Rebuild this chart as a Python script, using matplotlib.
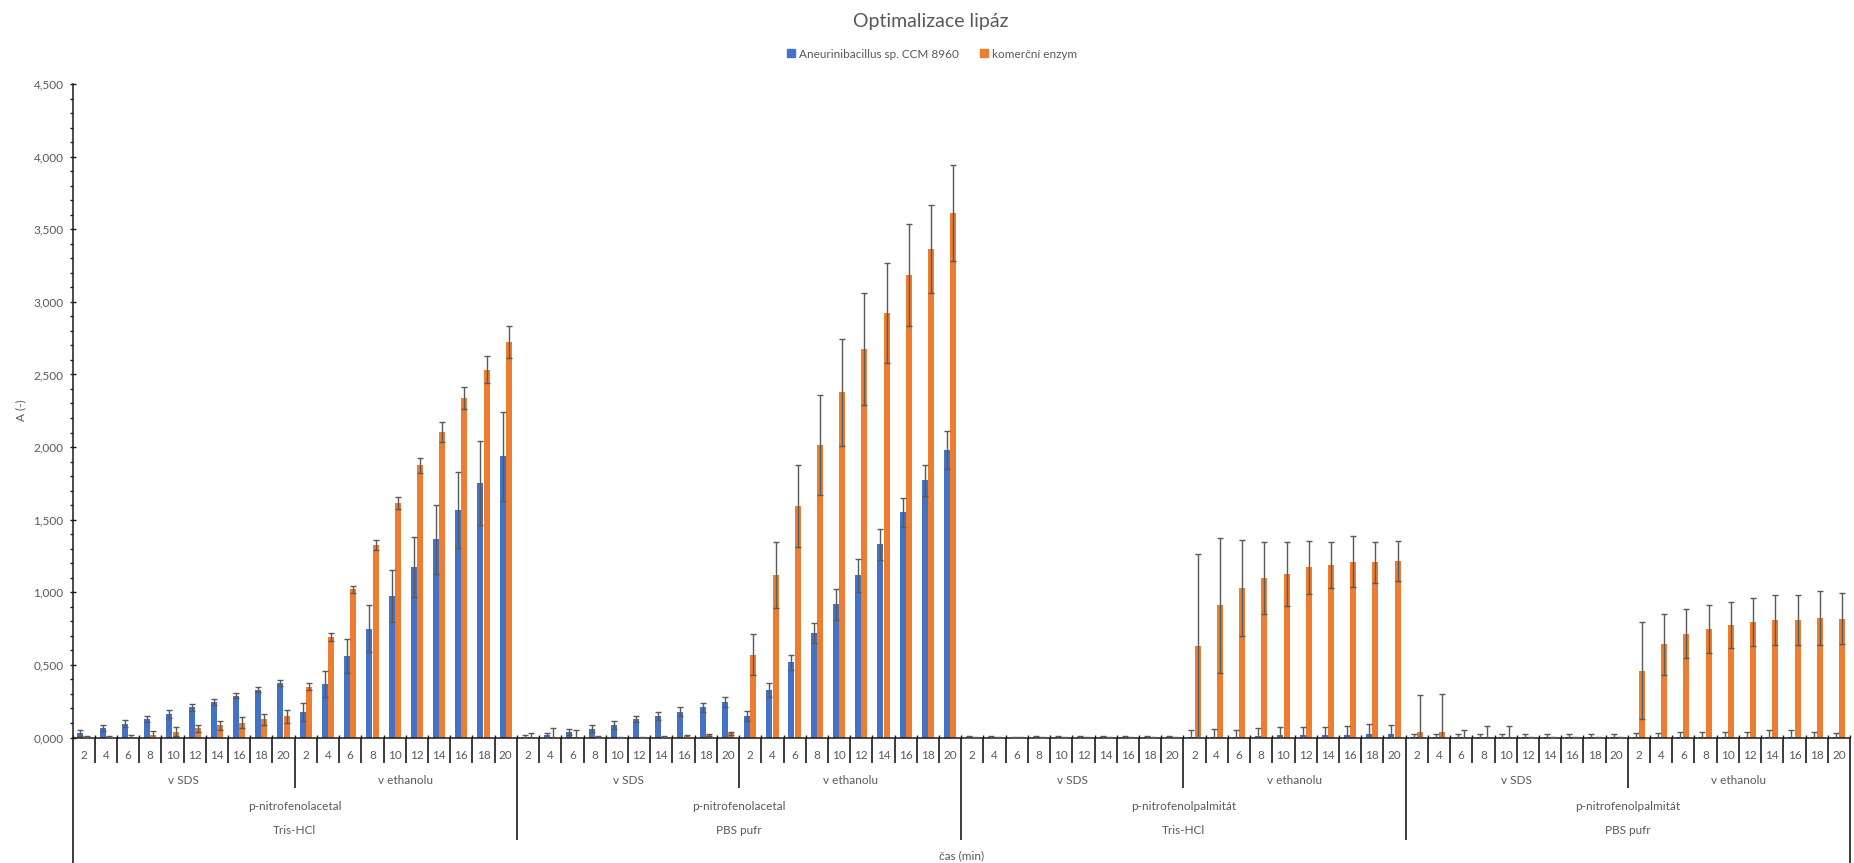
import numpy as np
import matplotlib
matplotlib.use("Agg")
import matplotlib.pyplot as plt
import matplotlib.transforms as mtransforms
from matplotlib.patches import Patch
from matplotlib.ticker import FuncFormatter, MultipleLocator

plt.rcParams['font.family'] = ['Lato', 'DejaVu Sans']

# --- data (absorbance) -----------------------------------------------------
times = [2, 4, 6, 8, 10, 12, 14, 16, 18, 20]
solvents = ["v SDS", "v ethanolu"]
substrates = ["p-nitrofenolacetal", "p-nitrofenolacetal", "p-nitrofenolpalmitát", "p-nitrofenolpalmitát"]
buffers = ["Tris-HCl", "PBS pufr", "Tris-HCl", "PBS pufr"]
series_names = ["Aneurinibacillus sp. CCM 8960", "komerční enzym"]

# Tris-HCl, p-nitrofenolacetal (v SDS then v ethanolu)
bac_tris_acetal = [0.030, 0.065, 0.096, 0.130, 0.163, 0.209, 0.245, 0.289, 0.330, 0.376,
                   0.177, 0.369, 0.562, 0.750, 0.973, 1.175, 1.365, 1.569, 1.753, 1.936]
bac_tris_acetal_err = [0.020, 0.020, 0.025, 0.020, 0.028, 0.025, 0.022, 0.015, 0.018, 0.020,
                       0.064, 0.092, 0.117, 0.160, 0.179, 0.209, 0.239, 0.262, 0.289, 0.305]
enz_tris_acetal = [0.008, 0.005, 0.005, 0.016, 0.040, 0.062, 0.083, 0.103, 0.124, 0.145,
                   0.349, 0.693, 1.021, 1.324, 1.613, 1.874, 2.106, 2.335, 2.533, 2.723]
enz_tris_acetal_err = [0.005, 0.004, 0.010, 0.030, 0.030, 0.025, 0.028, 0.040, 0.040, 0.044,
                       0.023, 0.030, 0.025, 0.034, 0.041, 0.050, 0.069, 0.076, 0.092, 0.110]

# PBS pufr, p-nitrofenolacetal
bac_pbs_acetal = [0.005, 0.014, 0.039, 0.061, 0.089, 0.128, 0.148, 0.179, 0.209, 0.243,
                  0.151, 0.327, 0.517, 0.718, 0.916, 1.117, 1.329, 1.550, 1.770, 1.980]
bac_pbs_acetal_err = [0.010, 0.016, 0.022, 0.025, 0.028, 0.022, 0.028, 0.030, 0.030, 0.033,
                      0.034, 0.045, 0.053, 0.070, 0.106, 0.112, 0.106, 0.100, 0.109, 0.131]
enz_pbs_acetal = [0.003, 0.005, 0.005, 0.003, 0.002, 0.003, 0.005, 0.011, 0.017, 0.028,
                  0.570, 1.117, 1.597, 2.016, 2.376, 2.675, 2.923, 3.183, 3.364, 3.610]
enz_pbs_acetal_err = [0.030, 0.060, 0.045, 0.004, 0.003, 0.003, 0.004, 0.005, 0.006, 0.008,
                      0.142, 0.226, 0.282, 0.343, 0.369, 0.383, 0.346, 0.352, 0.302, 0.332]

# Tris-HCl, p-nitrofenolpalmitát
bac_tris_palm = [0.003, 0.003, 0.002, 0.003, 0.003, 0.003, 0.004, 0.003, 0.003, 0.003,
                 0.005, 0.005, 0.005, 0.008, 0.015, 0.018, 0.018, 0.020, 0.025, 0.025]
bac_tris_palm_err = [0.004, 0.004, 0.004, 0.004, 0.004, 0.005, 0.008, 0.005, 0.004, 0.004,
                     0.050, 0.055, 0.050, 0.056, 0.058, 0.055, 0.055, 0.058, 0.067, 0.062]
enz_tris_palm = [0.002, 0.002, 0.002, 0.002, 0.002, 0.002, 0.002, 0.002, 0.002, 0.002,
                 0.633, 0.910, 1.030, 1.100, 1.128, 1.172, 1.185, 1.211, 1.206, 1.215]
enz_tris_palm_err = [0.003, 0.003, 0.003, 0.003, 0.003, 0.003, 0.003, 0.003, 0.003, 0.003,
                     0.633, 0.463, 0.330, 0.248, 0.220, 0.181, 0.158, 0.174, 0.142, 0.140]

# PBS pufr, p-nitrofenolpalmitát
bac_pbs_palm = [0.003, 0.003, 0.003, 0.003, 0.003, 0.003, 0.003, 0.003, 0.003, 0.003,
                0.003, 0.003, 0.003, 0.003, 0.003, 0.003, 0.003, 0.003, 0.003, 0.003]
bac_pbs_palm_err = [0.020, 0.020, 0.020, 0.020, 0.020, 0.020, 0.020, 0.020, 0.020, 0.020,
                    0.030, 0.030, 0.032, 0.032, 0.032, 0.032, 0.048, 0.048, 0.032, 0.030]
enz_pbs_palm = [0.039, 0.039, 0.003, 0.003, 0.003, 0.002, 0.002, 0.002, 0.002, 0.002,
                0.461, 0.642, 0.715, 0.748, 0.775, 0.798, 0.807, 0.807, 0.823, 0.819]
enz_pbs_palm_err = [0.257, 0.260, 0.052, 0.077, 0.077, 0.004, 0.004, 0.004, 0.004, 0.004,
                    0.335, 0.209, 0.167, 0.165, 0.161, 0.165, 0.172, 0.172, 0.183, 0.174]

bac = np.array(bac_tris_acetal + bac_pbs_acetal + bac_tris_palm + bac_pbs_palm)
bac_err = np.array(bac_tris_acetal_err + bac_pbs_acetal_err + bac_tris_palm_err + bac_pbs_palm_err)
enz = np.array(enz_tris_acetal + enz_pbs_acetal + enz_tris_palm + enz_pbs_palm)
enz_err = np.array(enz_tris_acetal_err + enz_pbs_acetal_err + enz_tris_palm_err + enz_pbs_palm_err)

# --- figure ------------------------------------------------------------------
W, H = 1854, 863
text_col = "#595959"
line_col = "#1a1a1a"
blue = "#4472C4"
orange = "#ED7D31"

fig = plt.figure(figsize=(W / 100, H / 100), dpi=100)
x_left, x_right, y_zero, y_top = 72.5, 1850, 737.5, 84
ax = fig.add_axes([x_left / W, 1 - y_zero / H, (x_right - x_left) / W, (y_zero - y_top) / H])


def fy(p):
    return 1 - p / H


n = len(bac)
centers = np.arange(n) + 0.5
bw = 0.27
ax.bar(centers - bw / 2 - 0.005, bac, width=bw, color=blue, zorder=2)
ax.bar(centers + bw / 2 + 0.005, enz, width=bw, color=orange, zorder=2)
ekw = dict(fmt="none", ecolor="#595959", elinewidth=1.0, capsize=2.2, capthick=1.0, zorder=3)
ax.errorbar(centers - bw / 2 - 0.005, bac, yerr=bac_err, **ekw)
ax.errorbar(centers + bw / 2 + 0.005, enz, yerr=enz_err, **ekw)

ax.set_xlim(0, n)
ax.set_ylim(0, 4.5)
ax.yaxis.set_major_locator(MultipleLocator(0.5))
ax.yaxis.set_minor_locator(MultipleLocator(0.1))
ax.yaxis.set_major_formatter(FuncFormatter(lambda v, p: f"{v:.3f}".replace(".", ",")))
ax.tick_params(axis="y", which="major", direction="inout", length=5, width=1.0,
               color=line_col, labelsize=8.5, labelcolor=text_col, pad=4)
ax.tick_params(axis="y", which="minor", direction="out", length=2.2, width=1.0, color=line_col)
ax.set_xticks(np.arange(n + 1))
ax.tick_params(axis="x", direction="in", length=2, width=1.0, color=line_col, labelbottom=False)

for s in ["top", "right"]:
    ax.spines[s].set_visible(False)
for s in ["left", "bottom"]:
    ax.spines[s].set_color(line_col)
    ax.spines[s].set_linewidth(1.1)

# multi-level category axis
trans = mtransforms.blended_transform_factory(ax.transData, fig.transFigure)
for b in range(n + 1):
    if b in (0, n):
        y_end = H
    elif b % 20 == 0:
        y_end = 840
    elif b % 10 == 0:
        y_end = 788
    else:
        y_end = 763
    ax.plot([b, b], [fy(y_zero), fy(y_end)], transform=trans, clip_on=False,
            color=line_col, lw=1.2, solid_capstyle="butt")

for i in range(n):
    ax.text(i + 0.5, fy(755), str(times[i % 10]), transform=trans, ha="center", va="center",
            fontsize=8.5, color=text_col)
for j in range(n // 10):
    ax.text(j * 10 + 5, fy(780), solvents[j % 2], transform=trans, ha="center", va="center",
            fontsize=8.5, color=text_col)
for k in range(n // 20):
    ax.text(k * 20 + 10, fy(806), substrates[k], transform=trans, ha="center", va="center",
            fontsize=8.5, color=text_col)
    ax.text(k * 20 + 10, fy(830), buffers[k], transform=trans, ha="center", va="center",
            fontsize=8.5, color=text_col)

fig.text((x_left + x_right) / 2 / W, fy(856), "čas (min)", ha="center", va="center",
         fontsize=8.5, color=text_col)
fig.text(21 / W, fy(410), "A (-)", rotation=90, ha="center", va="center",
         fontsize=8.5, color=text_col)
fig.text(931 / W, fy(22), "Optimalizace lipáz", ha="center", va="center",
         fontsize=14, color=text_col)

handles = [Patch(color=blue, label=series_names[0]), Patch(color=orange, label=series_names[1])]
fig.legend(handles=handles, loc="center", bbox_to_anchor=(932 / W, fy(54)), ncol=2,
           frameon=False, fontsize=8.5, handlelength=0.7, handleheight=0.7,
           handletextpad=0.3, columnspacing=1.8, labelcolor=text_col)

fig.savefig("out.png", dpi=100)
